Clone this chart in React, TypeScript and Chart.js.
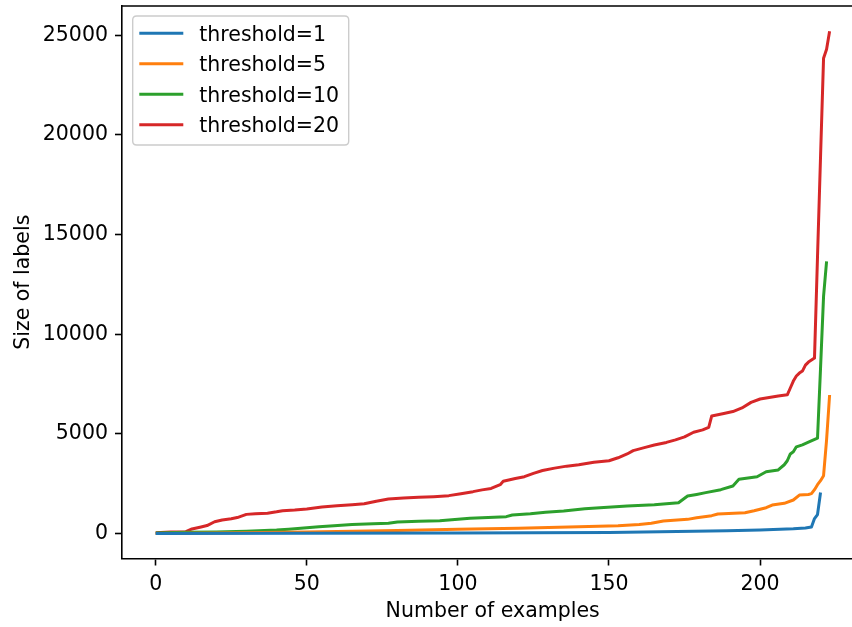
import { useEffect, useRef } from "react";
import { Chart, registerables } from "chart.js";

Chart.register(...registerables);

const SERIES_LABELS = ["threshold=1", "threshold=5", "threshold=10", "threshold=20"];
const SERIES_COLORS = ["#1f77b4", "#ff7f0e", "#2ca02c", "#d62728"];

// [example index, size of labels]
const T1: [number, number][] = [
  [0, 1], [50, 10], [100, 20], [150, 50], [167, 90], [189, 140], [200, 180],
  [211, 240], [215, 280], [217, 330], [218, 750], [219, 950], [220, 2060],
];

const T5: [number, number][] = [
  [0, 5], [20, 30], [50, 70], [80, 150], [100, 210], [120, 270], [140, 340],
  [153, 390], [160, 450], [164, 510], [168, 625], [176, 710], [179, 795],
  [184, 895], [186, 980], [195, 1045], [198, 1145], [202, 1295], [204, 1430],
  [208, 1515], [211, 1680], [213, 1930], [216, 1960], [217, 2000], [218, 2200],
  [219, 2450], [220, 2650], [221, 2900], [222, 4700], [223, 6950],
];

const T10: [number, number][] = [
  [0, 20], [10, 60], [20, 80], [30, 110], [40, 170], [44, 210], [48, 260],
  [54, 340], [59, 390], [65, 450], [72, 490], [77, 515], [80, 580], [87, 610],
  [94, 640], [100, 710], [104, 770], [110, 800], [116, 845], [118, 930],
  [124, 990], [129, 1065], [135, 1130], [142, 1240], [147, 1295], [156, 1380],
  [165, 1440], [173, 1545], [176, 1880], [179, 1960], [182, 2050], [187, 2200],
  [191, 2385], [193, 2720], [196, 2780], [199, 2850], [202, 3100], [206, 3190],
  [208, 3450], [209, 3650], [210, 3990], [211, 4100], [212, 4350], [214, 4450],
  [216, 4580], [219, 4780], [220, 8300], [221, 11900], [222, 13650],
];

const T20: [number, number][] = [
  [0, 40], [5, 70], [10, 90], [12, 230], [15, 330], [17, 400], [19.5, 590],
  [22, 680], [25, 740], [27, 800], [30, 960], [33, 990], [37, 1020], [40, 1090],
  [42, 1145], [46, 1180], [50, 1230], [55, 1330], [60, 1390], [65, 1440],
  [69, 1490], [73, 1620], [77, 1730], [82, 1780], [87, 1815], [92, 1850],
  [97, 1900], [101, 2000], [105, 2100], [108, 2190], [111, 2260], [114, 2450],
  [115, 2620], [119, 2760], [122, 2850], [125, 3020], [128, 3160], [132, 3280],
  [136, 3380], [140, 3450], [145, 3580], [150, 3650], [153, 3800], [156, 3990],
  [158, 4160], [162, 4320], [165, 4440], [169, 4570], [172, 4700], [175, 4850],
  [178, 5080], [181, 5200], [183, 5330], [184, 5900], [188, 6020], [191, 6120],
  [194, 6300], [197, 6580], [200, 6750], [203, 6820], [206, 6900], [209, 6960],
  [210, 7300], [211, 7650], [212, 7900], [213, 8050], [214, 8150], [215, 8450],
  [216, 8600], [217, 8700], [218, 8800], [219, 13900], [220, 18900],
  [221, 23850], [222, 24300], [223, 25200],
];

const SERIES = [T1, T5, T10, T20];

const X_TICKS = [0, 50, 100, 150, 200];
const Y_TICKS = [0, 5000, 10000, 15000, 20000, 25000];
const X_TITLE = "Number of examples";
const Y_TITLE = "Size of labels";

const FONT = "'DejaVu Sans', sans-serif";
const FS = 20.5;
const CANVAS_W = 870;

const framePlugin = {
  id: "frameAndLegend",
  afterDraw(chart: any) {
    const ctx = chart.ctx as CanvasRenderingContext2D;
    const { left, right, top, bottom } = chart.chartArea;
    ctx.save();
    // top and right spines
    ctx.strokeStyle = "#000";
    ctx.lineWidth = 1.6;
    ctx.beginPath();
    ctx.moveTo(left - 0.8, top);
    ctx.lineTo(right, top);
    ctx.lineTo(right, bottom);
    ctx.stroke();

    // legend box
    const bx = 132.7, by = 16, bw = 216, bh = 129, r = 4;
    ctx.beginPath();
    ctx.moveTo(bx + r, by);
    ctx.lineTo(bx + bw - r, by);
    ctx.quadraticCurveTo(bx + bw, by, bx + bw, by + r);
    ctx.lineTo(bx + bw, by + bh - r);
    ctx.quadraticCurveTo(bx + bw, by + bh, bx + bw - r, by + bh);
    ctx.lineTo(bx + r, by + bh);
    ctx.quadraticCurveTo(bx, by + bh, bx, by + bh - r);
    ctx.lineTo(bx, by + r);
    ctx.quadraticCurveTo(bx, by, bx + r, by);
    ctx.closePath();
    ctx.fillStyle = "rgba(255,255,255,0.8)";
    ctx.fill();
    ctx.strokeStyle = "#cccccc";
    ctx.lineWidth = 1.4;
    ctx.stroke();

    chart.data.datasets.forEach((ds: any, i: number) => {
      const y = 33.3 + i * 30.45;
      ctx.strokeStyle = ds.borderColor;
      ctx.lineWidth = 3;
      ctx.lineCap = "butt";
      ctx.beginPath();
      ctx.moveTo(139.3, y);
      ctx.lineTo(183.3, y);
      ctx.stroke();
      ctx.fillStyle = "#000";
      ctx.font = `${FS}px ${FONT}`;
      ctx.textBaseline = "alphabetic";
      ctx.textAlign = "left";
      ctx.fillText(ds.label, 199.3, y + 7.4);
    });
    ctx.restore();
  },
};

export default function App() {
  const canvasRef = useRef<HTMLCanvasElement | null>(null);

  useEffect(() => {
    const canvas = canvasRef.current;
    if (!canvas) return;
    const chart = new Chart(canvas, {
      type: "line",
      data: {
        datasets: SERIES.map((s, i) => ({
          label: SERIES_LABELS[i],
          data: s.map(([x, y]) => ({ x, y })),
          borderColor: SERIES_COLORS[i],
          backgroundColor: SERIES_COLORS[i],
          borderWidth: 3,
          pointRadius: 0,
          tension: 0,
          fill: false,
          borderJoinStyle: "round",
          borderCapStyle: "butt",
        })),
      },
      options: {
        animation: false,
        responsive: false,
        devicePixelRatio: 1,
        layout: { padding: { top: 6, left: 0, right: 6.7, bottom: 0 } },
        plugins: {
          legend: { display: false },
          tooltip: { enabled: false },
        },
        scales: {
          x: {
            type: "linear",
            min: -11.15,
            max: 234.15,
            afterFit: (s: any) => {
              s.height = 68.5;
              s.paddingLeft = 0;
              s.paddingRight = 0;
            },
            afterBuildTicks: (s: any) => {
              s.ticks = X_TICKS.map((v) => ({ value: v }));
            },
            grid: {
              display: true,
              drawOnChartArea: false,
              drawTicks: true,
              tickLength: 7,
              tickWidth: 1.6,
              tickColor: "#000",
            },
            border: { display: true, color: "#000", width: 1.6 },
            ticks: {
              color: "#000",
              font: { family: FONT, size: FS },
              padding: 7,
              maxRotation: 0,
              autoSkip: false,
              callback: (v: any) => String(v),
            },
            title: {
              display: true,
              text: X_TITLE,
              color: "#000",
              font: { family: FONT, size: FS },
              padding: { top: 0, bottom: 3 },
            },
          },
          y: {
            type: "linear",
            min: -1254,
            max: 26467,
            afterFit: (s: any) => {
              s.width = 122;
              s.paddingTop = 0;
              s.paddingBottom = 0;
            },
            afterBuildTicks: (s: any) => {
              s.ticks = Y_TICKS.map((v) => ({ value: v }));
            },
            grid: {
              display: true,
              drawOnChartArea: false,
              drawTicks: true,
              tickLength: 7,
              tickWidth: 1.6,
              tickColor: "#000",
            },
            border: { display: true, color: "#000", width: 1.6 },
            ticks: {
              color: "#000",
              font: { family: FONT, size: FS },
              padding: 7,
              autoSkip: false,
              callback: (v: any) => String(v),
            },
            title: {
              display: true,
              text: Y_TITLE,
              color: "#000",
              font: { family: FONT, size: FS },
              padding: { top: 11, bottom: 0 },
            },
          },
        },
      },
      plugins: [framePlugin],
    } as any);
    return () => chart.destroy();
  }, []);

  return (
    <div
      style={{
        position: "fixed",
        left: 0,
        top: 0,
        width: 852,
        height: 627,
        overflow: "hidden",
        background: "#fff",
      }}
    >
      <canvas
        ref={canvasRef}
        width={CANVAS_W}
        height={627}
        style={{ display: "block", width: CANVAS_W, height: 627 }}
      />
    </div>
  );
}
